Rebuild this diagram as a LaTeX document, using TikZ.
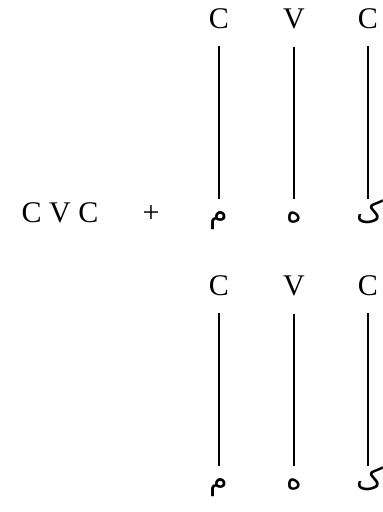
\documentclass[tikz,border=0pt]{standalone}
\usepackage{fontspec}
\setmainfont{Liberation Serif}
\newfontfamily\arabicfont[Script=Arabic]{DejaVu Sans}
\TeXXeTstate=1
\tikzset{
  lat/.style={font=\fontsize{30}{36}\selectfont, inner sep=0pt, anchor=base},
  ar/.style={font=\arabicfont\fontsize{30}{36}\selectfont, inner sep=0pt, anchor=base, text height=14pt},
  bar/.style={line width=1.2pt, shorten <=18pt, shorten >=9pt}
}
\begin{document}
\begin{tikzpicture}[x=1pt, y=-1pt]
  \useasboundingbox (0,0) rectangle (383,512);

  % left side
  \node[lat] (cvc) at (60,222) {C V C};
  \node[lat] (plus) at (151,222) {+};

  % upper block
  \node[lat] (c1) at (219,28) {C};
  \node[lat] (v1) at (294,28) {V};
  \node[lat] (k1) at (368,28) {C};
  \node[ar] (m1) at (219,222) {\beginR م\endR};
  \node[ar] (h1) at (294,222) {\beginR ه\endR};
  \node[ar, anchor=base west] (g1) at (356,222) {\beginR ک\endR};
  \draw[bar] (c1.south) -- (c1.south |- m1.north);
  \draw[bar] (v1.south) -- (v1.south |- h1.north);
  \draw[bar] (k1.south) -- (k1.south |- g1.north);

  % lower block
  \node[lat] (c2) at (219,295) {C};
  \node[lat] (v2) at (294,295) {V};
  \node[lat] (k2) at (368,295) {C};
  \node[ar] (m2) at (219,489) {\beginR م\endR};
  \node[ar] (h2) at (294,489) {\beginR ه\endR};
  \node[ar, anchor=base west] (g2) at (356,489) {\beginR ک\endR};
  \draw[bar] (c2.south) -- (c2.south |- m2.north);
  \draw[bar] (v2.south) -- (v2.south |- h2.north);
  \draw[bar] (k2.south) -- (k2.south |- g2.north);
\end{tikzpicture}
\end{document}
